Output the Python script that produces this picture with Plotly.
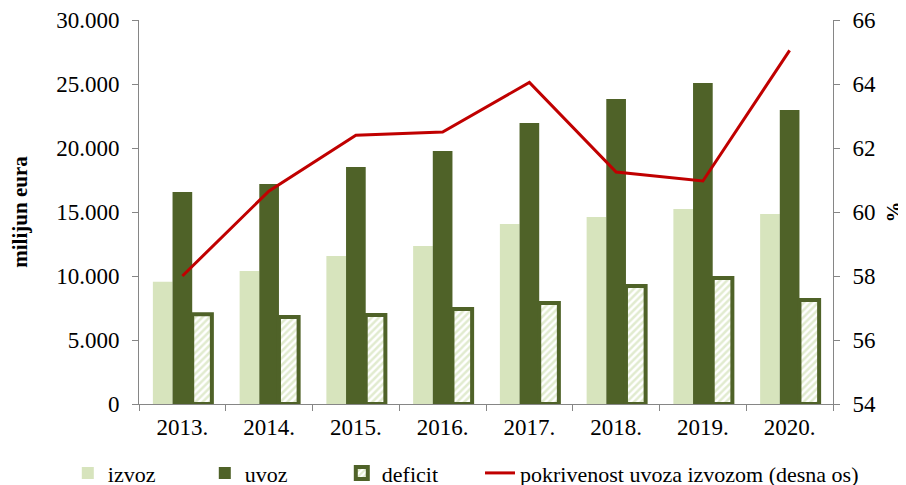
import plotly.graph_objects as go

years = ["2013.", "2014.", "2015.", "2016.", "2017.", "2018.", "2019.", "2020."]
izvoz = [9550, 10390, 11560, 12340, 14060, 14610, 15230, 14840]
uvoz = [16560, 17190, 18520, 19770, 21950, 23830, 25080, 22970]
deficit = [7010, 6800, 6960, 7430, 7890, 9220, 9850, 8130]
pokrivenost = [58.0, 60.66, 62.4, 62.5, 64.05, 61.25, 60.97, 65.05]

FONT = "Liberation Serif"
DARK = "#4F6228"
LIGHT = "#D7E4BD"
RED = "#C00000"

fig = go.Figure()
fig.add_trace(go.Bar(x=years, y=izvoz, name="izvoz", marker=dict(color=LIGHT, line=dict(width=0))))
fig.add_trace(go.Bar(x=years, y=uvoz, name="uvoz", marker=dict(color=DARK, line=dict(width=0))))
fig.add_trace(go.Bar(x=years, y=deficit, name="deficit",
                     marker=dict(color="white",
                                 pattern=dict(shape="/", fgcolor="#C4D79F", bgcolor="white", size=5, solidity=0.5),
                                 line=dict(color=DARK, width=4))))
fig.add_trace(go.Scatter(x=years, y=pokrivenost, name="pokrivenost uvoza izvozom (desna os)",
                         mode="lines", line=dict(color=RED, width=3), yaxis="y2", legend="legend2"))

axis_common = dict(showline=True, linecolor="#868686", linewidth=1, ticks="outside",
                   ticklen=6, tickcolor="#868686", showgrid=False, zeroline=False, automargin=False)

# the page body adds an 8px offset, margins compensate for it
fig.update_layout(
    width=906, height=485,
    margin=dict(l=131, r=81, t=12, b=89, autoexpand=False),
    paper_bgcolor="white", plot_bgcolor="white",
    barmode="group", bargap=0.32, bargroupgap=0,
    font=dict(family=FONT, size=22, color="black"),
    showlegend=True,
    legend=dict(orientation="h", xref="container", yref="container",
                x=0.066, xanchor="left", y=0.041, yanchor="middle",
                font=dict(family=FONT, size=22), traceorder="normal",
                itemwidth=30, entrywidth=92, bgcolor="rgba(0,0,0,0)"),
    legend2=dict(orientation="h", xref="container", yref="container",
                 x=0.521, xanchor="left", y=0.041, yanchor="middle",
                 font=dict(family=FONT, size=22),
                 itemwidth=30, bgcolor="rgba(0,0,0,0)"),
    xaxis=dict(axis_common, tickson="boundaries", ticklabelstandoff=2,
               tickfont=dict(family=FONT, size=23)),
    yaxis=dict(axis_common, range=[0, 30000], dtick=5000, tickformat=",d",
               ticklabelstandoff=8, tickfont=dict(family=FONT, size=23),
               title=dict(text="<b>milijun eura</b>", font=dict(family=FONT, size=21), standoff=24)),
    yaxis2=dict(axis_common, range=[54, 66], dtick=2, overlaying="y", side="right",
                ticklabelstandoff=8, tickfont=dict(family=FONT, size=23),
                title=dict(text="<b>%</b>", font=dict(family=FONT, size=21), standoff=11)),
    separators=",.",
)

fig.write_html("out.html")
